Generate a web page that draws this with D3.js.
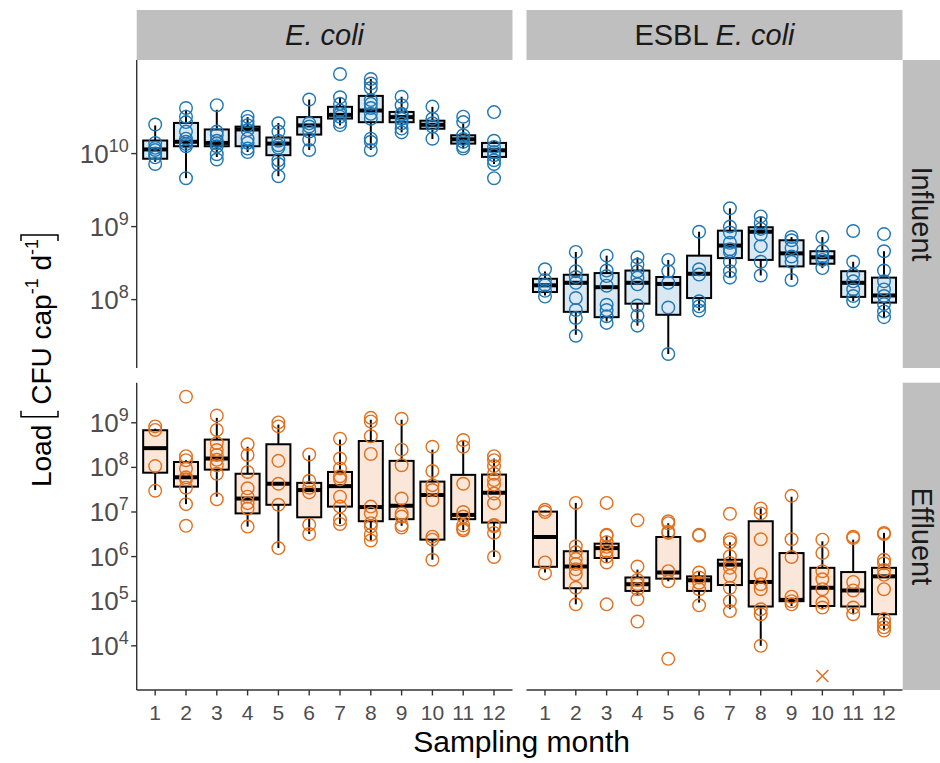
<!DOCTYPE html>
<html>
<head>
<meta charset="utf-8">
<script src="https://cdn.jsdelivr.net/npm/d3@7"></script>
<style>
  body { margin: 0; background: #fff; }
  svg { display: block; font-family: "Liberation Sans", Arial, Helvetica, sans-serif; }
</style>
</head>
<body>
<svg id="chart" width="940" height="763"></svg>
<script>
// ---- data ---------------------------------------------------------------
const months = [1, 2, 3, 4, 5, 6, 7, 8, 9, 10, 11, 12];
const organisms = ["E. coli", "ESBL E. coli"];
const stages = ["Influent", "Effluent"];
const influentTickExponents = [8, 9, 10];
const effluentTickExponents = [4, 5, 6, 7, 8, 9];

// box summaries per month: [lower whisker, Q1, median, Q3, upper whisker] (CFU cap^-1 d^-1)
const ecoliInfluentBox = [
  [7.7e9, 8.5e9, 1.14e10, 1.51e10, 2.43e10],
  [4.6e9, 1.26e10, 1.45e10, 2.63e10, 3.98e10],
  [9.0e9, 1.26e10, 1.40e10, 2.14e10, 3.98e10],
  [1.05e10, 1.26e10, 2.14e10, 2.34e10, 3.16e10],
  [4.9e9, 9.5e9, 1.37e10, 1.66e10, 2.63e10],
  [1.12e10, 1.82e10, 2.43e10, 3.16e10, 5.5e10],
  [2.43e10, 3.02e10, 3.39e10, 4.37e10, 5.9e10],
  [1.12e10, 2.69e10, 3.89e10, 6.17e10, 1.05e11],
  [1.95e10, 2.69e10, 3.16e10, 3.72e10, 6.0e10],
  [1.58e10, 2.19e10, 2.48e10, 2.82e10, 4.37e10],
  [1.17e10, 1.37e10, 1.57e10, 1.78e10, 2.57e10],
  [7.2e9, 9.0e9, 1.11e10, 1.40e10, 1.51e10]
];
const esblInfluentBox = [
  [1.14e8, 1.27e8, 1.57e8, 1.93e8, 2.43e8],
  [3.3e7, 6.8e7, 1.7e8, 2.19e8, 4.5e8],
  [5.0e7, 5.75e7, 1.48e8, 2.31e8, 4.0e8],
  [4.4e7, 8.8e7, 1.7e8, 2.5e8, 3.8e8],
  [1.8e7, 6.2e7, 1.64e8, 2.04e8, 3.5e8],
  [7.1e7, 1.05e8, 2.26e8, 4.0e8, 8.5e8],
  [2.0e8, 3.7e8, 5.5e8, 8.8e8, 1.78e9],
  [2.14e8, 3.5e8, 8.5e8, 9.8e8, 1.38e9],
  [1.86e8, 2.85e8, 4.3e8, 6.5e8, 7.2e8],
  [2.7e8, 3.1e8, 3.8e8, 4.6e8, 7.2e8],
  [9.5e7, 1.09e8, 1.7e8, 2.45e8, 3.3e8],
  [5.75e7, 9.1e7, 1.14e8, 2.0e8, 4.6e8]
];
const ecoliEffluentBox = [
  [3.1e7, 7.6e7, 2.7e8, 6.8e8, 7.4e8],
  [1.5e7, 3.7e7, 6.0e7, 1.32e8, 1.45e8],
  [2.2e7, 8.9e7, 1.58e8, 4.2e8, 1.29e9],
  [4.7e6, 9.3e6, 2.0e7, 7.2e7, 2.9e8],
  [1.55e6, 1.45e7, 4.3e7, 3.3e8, 9.1e8],
  [3.2e6, 7.6e6, 3.1e7, 4.5e7, 1.86e8],
  [5.4e6, 1.32e7, 3.8e7, 7.9e7, 4.2e8],
  [2.3e6, 6.2e6, 1.29e7, 3.9e8, 1.17e9],
  [4.9e6, 6.9e6, 1.38e7, 1.4e8, 1.17e9],
  [8.5e5, 2.4e6, 2.4e7, 4.8e7, 2.5e8],
  [3.9e6, 6.9e6, 8.6e6, 6.8e7, 3.9e8],
  [9.8e5, 5.8e6, 2.7e7, 6.9e7, 1.58e8]
];
const esblEffluentBox = [
  [4.4e5, 5.9e5, 2.75e6, 1.02e7, 1.07e7],
  [8.5e4, 1.95e5, 6.0e5, 1.32e6, 1.6e7],
  [7.2e5, 9.3e5, 1.55e6, 1.95e6, 2.95e6],
  [1.32e5, 1.7e5, 2.4e5, 3.4e5, 5.1e5],
  [2.8e5, 3.2e5, 4.4e5, 2.75e6, 5.6e6],
  [9.3e4, 1.7e5, 2.95e5, 3.6e5, 4.7e5],
  [6.6e4, 2.3e5, 6.6e5, 8.5e5, 2.1e6],
  [1.0e4, 7.6e4, 2.7e5, 6.2e6, 1.2e7],
  [7.8e4, 1.0e5, 1.07e5, 1.2e6, 2.2e7],
  [6.6e4, 7.8e4, 2.0e5, 5.6e5, 2.2e6],
  [5.1e4, 7.6e4, 1.74e5, 4.5e5, 2.4e6],
  [2.2e4, 5.1e4, 3.6e5, 5.6e5, 3.4e6]
];

// individual samples per month
const ecoliInfluentPoints = [
  [2.5e10, 1.4e10, 1.2e10, 1.12e10, 1.0e10, 8.9e9, 7.2e9],
  [4.2e10, 3.2e10, 2.7e10, 2.0e10, 1.6e10, 1.45e10, 1.35e10, 1.26e10, 4.6e9],
  [4.6e10, 2.0e10, 1.8e10, 1.5e10, 1.38e10, 1.26e10, 9.8e9, 8.3e9],
  [3.2e10, 2.8e10, 2.45e10, 2.1e10, 1.6e10, 1.4e10, 1.17e10, 1.05e10],
  [2.6e10, 2.0e10, 1.5e10, 1.3e10, 1.2e10, 8.1e9, 7.2e9, 4.9e9],
  [5.5e10, 2.6e10, 2.35e10, 2.0e10, 1.55e10, 1.12e10],
  [1.23e11, 5.9e10, 4.8e10, 3.9e10, 3.5e10, 3.2e10, 2.7e10, 2.45e10],
  [1.05e11, 9.1e10, 7.9e10, 5.4e10, 4.8e10, 4.2e10, 3.5e10, 3.0e10, 1.6e10, 1.45e10, 1.12e10],
  [6.0e10, 4.6e10, 3.5e10, 3.4e10, 3.0e10, 2.6e10, 2.2e10, 1.95e10],
  [4.4e10, 3.0e10, 2.6e10, 2.35e10, 1.6e10],
  [3.2e10, 2.7e10, 1.78e10, 1.58e10, 1.45e10, 1.26e10, 1.17e10],
  [3.7e10, 1.5e10, 1.23e10, 1.05e10, 9.5e9, 8.1e9, 7.2e9, 4.6e9]
];
const esblInfluentPoints = [
  [2.6e8, 1.86e8, 1.58e8, 1.32e8, 1.1e8],
  [4.5e8, 2.45e8, 2.04e8, 1.7e8, 1.05e8, 7.2e7, 5.6e7, 3.2e7],
  [4.0e8, 2.5e8, 2.1e8, 1.55e8, 8.5e7, 7.2e7, 5.9e7, 4.8e7],
  [3.8e8, 3.0e8, 2.45e8, 2.0e8, 1.62e8, 8.3e7, 6.0e7, 4.4e7],
  [3.5e8, 2.45e8, 1.7e8, 7.8e7, 1.8e7],
  [8.5e8, 2.6e8, 2.2e8, 9.5e7, 8.1e7, 7.1e7],
  [1.78e9, 1.0e9, 8.3e8, 6.0e8, 4.9e8, 4.5e8, 3.3e8, 2.45e8, 2.0e8],
  [1.38e9, 1.12e9, 9.3e8, 7.8e8, 5.4e8, 3.3e8, 2.14e8],
  [7.2e8, 6.5e8, 5.1e8, 3.9e8, 3.3e8, 1.86e8],
  [7.2e8, 4.6e8, 3.9e8, 3.5e8, 2.7e8],
  [8.7e8, 3.3e8, 2.2e8, 1.78e8, 1.38e8, 1.12e8, 9.5e7],
  [7.9e8, 4.6e8, 2.5e8, 1.78e8, 1.38e8, 1.12e8, 8.7e7, 6.9e7, 5.75e7]
];
const ecoliEffluentPoints = [
  [8.3e8, 6.9e8, 1.07e8, 3.0e7],
  [3.85e9, 1.78e8, 1.45e8, 9.3e7, 6.0e7, 5.4e7, 3.5e7, 1.5e7, 4.9e6],
  [1.45e9, 6.9e8, 3.5e8, 2.45e8, 1.9e8, 1.48e8, 1.12e8, 7.2e7, 1.93e7],
  [3.3e8, 1.9e8, 7.9e7, 3.4e7, 2.2e7, 1.58e7, 1.2e7, 4.7e6],
  [1.02e9, 8.3e8, 1.4e8, 4.3e7, 1.45e7, 1.55e6],
  [1.95e8, 5.0e7, 3.5e7, 2.75e7, 5.2e6, 3.2e6],
  [4.4e8, 1.58e8, 9.5e7, 6.3e7, 5.4e7, 2.2e7, 1.32e7, 6.8e6, 5.4e6],
  [1.29e9, 1.07e9, 5.0e8, 2.0e8, 1.32e7, 9.3e6, 5.6e6, 4.7e6, 3.1e6, 2.3e6],
  [1.23e9, 2.5e8, 1.12e8, 2.0e7, 9.3e6, 7.9e6, 5.1e6, 4.5e6],
  [2.9e8, 8.3e7, 4.0e7, 3.1e7, 1.86e7, 2.8e6, 2.4e6, 8.5e5],
  [4.1e8, 2.9e8, 4.3e7, 1.0e7, 7.9e6, 5.0e6, 4.2e6, 3.9e6],
  [1.78e8, 1.45e8, 1.07e8, 7.2e7, 5.2e7, 4.1e7, 2.6e7, 1.58e7, 5.1e6, 4.8e6, 3.4e6, 9.8e5]
];
const esblEffluentPoints = [
  [1.12e7, 1.0e7, 7.4e5, 4.2e5],
  [1.6e7, 1.7e6, 1.26e6, 8.9e5, 6.8e5, 5.2e5, 4.0e5, 2.0e5, 8.5e4],
  [1.6e7, 3.1e6, 2.95e6, 2.1e6, 1.66e6, 1.32e6, 1.0e6, 7.4e5, 8.5e4],
  [6.5e6, 6.0e5, 3.0e5, 2.4e5, 1.86e5, 1.1e5, 3.5e4],
  [6.2e6, 5.6e6, 3.6e6, 3.4e6, 4.7e5, 2.8e5, 5.1e3],
  [3.1e6, 2.95e6, 4.4e5, 3.4e5, 2.6e5, 1.86e5, 8.1e4],
  [9.1e6, 2.45e6, 2.1e6, 1.02e6, 7.2e5, 5.6e5, 3.7e5, 2.0e5, 1.0e5, 6.0e4],
  [1.2e7, 9.3e6, 2.45e6, 4.0e5, 2.4e5, 1.86e5, 6.6e4, 5.1e4, 1.0e4],
  [2.3e7, 2.45e6, 9.8e5, 1.26e5, 1.0e5, 8.5e4],
  [2.4e6, 1.2e6, 4.7e5, 3.1e5, 1.86e5, 9.3e4, 7.2e4],
  [2.8e6, 2.6e6, 2.7e5, 1.74e5, 7.2e4, 5.1e4],
  [3.4e6, 3.2e6, 8.5e5, 7.1e5, 5.0e5, 3.9e5, 1.86e5, 4.0e4, 3.2e4, 2.6e4, 2.2e4]
];
// sample below the quantification limit (drawn as a cross)
const esblEffluentBelowLimit = [{ month: 10, value: 2.1e3 }];

// ---- layout -------------------------------------------------------------
const svg = d3.select("#chart");
const BLUE = "#1f77b4", ORANGE = "#e0701e";
const columns = [{ x0: 136.7, x1: 512.5 }, { x0: 526.5, x1: 902.5 }];
const rows = [{ y0: 60, y1: 368 }, { y0: 382.7, y1: 690 }];
const stripTop = 10, stripRightX = 902.7;

const panels = [
  { col: 0, row: 0, box: ecoliInfluentBox, pts: ecoliInfluentPoints, color: BLUE, lod: [] },
  { col: 1, row: 0, box: esblInfluentBox, pts: esblInfluentPoints, color: BLUE, lod: [] },
  { col: 0, row: 1, box: ecoliEffluentBox, pts: ecoliEffluentPoints, color: ORANGE, lod: [] },
  { col: 1, row: 1, box: esblEffluentBox, pts: esblEffluentPoints, color: ORANGE, lod: esblEffluentBelowLimit }
];

// shared y scale per row (log10, 5% expansion like the facet default)
const yScales = rows.map((r, ri) => {
  const vals = [];
  panels.filter(p => p.row === ri).forEach(p => {
    p.box.forEach(b => vals.push(...b));
    p.pts.forEach(a => vals.push(...a));
    p.lod.forEach(d => vals.push(d.value));
  });
  const lo = Math.log10(d3.min(vals)), hi = Math.log10(d3.max(vals));
  const pad = (hi - lo) * 0.05;
  return d3.scaleLog().domain([10 ** (lo - pad), 10 ** (hi + pad)]).range([r.y1, r.y0]);
});
const xScales = columns.map(c => d3.scaleLinear().domain([0.4, 12.6]).range([c.x0, c.x1]));
const boxWidthUnits = 0.78;

// ---- strips -------------------------------------------------------------
columns.forEach((c, ci) => {
  svg.append("rect").attr("x", c.x0).attr("y", stripTop).attr("width", c.x1 - c.x0)
    .attr("height", rows[0].y0 - stripTop).attr("fill", "#bfbfbf");
  const t = svg.append("text").attr("x", (c.x0 + c.x1) / 2).attr("y", 45)
    .attr("text-anchor", "middle").attr("font-size", 29).attr("fill", "#1a1a1a");
  if (organisms[ci].startsWith("ESBL")) {
    t.append("tspan").text("ESBL ");
    t.append("tspan").attr("font-style", "italic").text("E. coli");
  } else {
    t.append("tspan").attr("font-style", "italic").text(organisms[ci]);
  }
});
rows.forEach((r, ri) => {
  svg.append("rect").attr("x", stripRightX).attr("y", r.y0).attr("width", 940 - stripRightX)
    .attr("height", r.y1 - r.y0).attr("fill", "#bfbfbf");
  const cx = (stripRightX + 940) / 2 + 1, cy = (r.y0 + r.y1) / 2;
  svg.append("text").attr("transform", `translate(${cx},${cy}) rotate(90)`)
    .attr("text-anchor", "middle").attr("dy", "0.35em").attr("font-size", 29)
    .attr("fill", "#1a1a1a").text(stages[ri]);
});

// ---- panels -------------------------------------------------------------
panels.forEach(p => {
  const xs = xScales[p.col], ys = yScales[p.row];
  const bw = (xs(1 + boxWidthUnits) - xs(1));
  const g = svg.append("g");
  const stats = p.box.map((b, i) => ({ m: months[i], lw: b[0], q1: b[1], med: b[2], q3: b[3], uw: b[4] }));

  g.selectAll(".wu").data(stats).join("line")
    .attr("x1", d => xs(d.m)).attr("x2", d => xs(d.m))
    .attr("y1", d => ys(d.q3)).attr("y2", d => ys(d.uw))
    .attr("stroke", "#000").attr("stroke-width", 2);
  g.selectAll(".wl").data(stats).join("line")
    .attr("x1", d => xs(d.m)).attr("x2", d => xs(d.m))
    .attr("y1", d => ys(d.q1)).attr("y2", d => ys(d.lw))
    .attr("stroke", "#000").attr("stroke-width", 2);
  g.selectAll(".bx").data(stats).join("rect")
    .attr("x", d => xs(d.m) - bw / 2).attr("width", bw)
    .attr("y", d => ys(d.q3)).attr("height", d => ys(d.q1) - ys(d.q3))
    .attr("fill", p.color).attr("fill-opacity", 0.17)
    .attr("stroke", "#000").attr("stroke-width", 2);
  g.selectAll(".md").data(stats).join("line")
    .attr("x1", d => xs(d.m) - bw / 2).attr("x2", d => xs(d.m) + bw / 2)
    .attr("y1", d => ys(d.med)).attr("y2", d => ys(d.med))
    .attr("stroke", "#000").attr("stroke-width", 4);

  const pts = [];
  p.pts.forEach((arr, i) => arr.forEach(v => pts.push({ m: months[i], v })));
  g.selectAll(".pt").data(pts).join("circle")
    .attr("cx", d => xs(d.m)).attr("cy", d => ys(d.v)).attr("r", 6.3)
    .attr("fill", "none").attr("stroke", p.color).attr("stroke-width", 1.4);

  const s = 6;
  g.selectAll(".lod").data(p.lod).join("path")
    .attr("d", d => {
      const x = xs(d.month), y = ys(d.value);
      return `M${x - s},${y - s}L${x + s},${y + s}M${x - s},${y + s}L${x + s},${y - s}`;
    })
    .attr("stroke", p.color).attr("stroke-width", 1.5).attr("fill", "none");
});

// ---- axes ---------------------------------------------------------------
const AXIS = "#333333", LABEL = "#4d4d4d";
rows.forEach((r, ri) => {
  const ys = yScales[ri];
  const x0 = columns[0].x0;
  svg.append("line").attr("x1", x0).attr("x2", x0).attr("y1", r.y0).attr("y2", r.y1)
    .attr("stroke", AXIS).attr("stroke-width", 1.4);
  const exps = ri === 0 ? influentTickExponents : effluentTickExponents;
  exps.forEach(e => {
    const y = ys(10 ** e);
    svg.append("line").attr("x1", x0 - 5.5).attr("x2", x0).attr("y1", y).attr("y2", y)
      .attr("stroke", AXIS).attr("stroke-width", 1.4);
    const t = svg.append("text").attr("x", x0 - 8).attr("y", y + 9)
      .attr("text-anchor", "end").attr("font-size", 26).attr("fill", LABEL);
    t.append("tspan").text("10");
    t.append("tspan").attr("dy", -11).attr("font-size", 18).text(e);
  });
});
columns.forEach((c, ci) => {
  const xs = xScales[ci], y0 = rows[1].y1;
  svg.append("line").attr("x1", c.x0).attr("x2", c.x1).attr("y1", y0).attr("y2", y0)
    .attr("stroke", AXIS).attr("stroke-width", 1.4);
  months.forEach(m => {
    svg.append("line").attr("x1", xs(m)).attr("x2", xs(m)).attr("y1", y0).attr("y2", y0 + 5.5)
      .attr("stroke", AXIS).attr("stroke-width", 1.4);
    svg.append("text").attr("x", xs(m)).attr("y", 720).attr("text-anchor", "middle")
      .attr("font-size", 21).attr("fill", LABEL).text(m);
  });
});

// ---- axis titles --------------------------------------------------------
svg.append("text").attr("x", (columns[0].x0 + columns[1].x1) / 2 + 2).attr("y", 752)
  .attr("text-anchor", "middle").attr("font-size", 30).attr("fill", "#000").text("Sampling month");

// y title: Load [CFU cap^-1 d^-1] with tall brackets
(function () {
  const fs = 28, sup = 18;
  const g = svg.append("g").attr("transform", "translate(51,360) rotate(-90)");
  let u = 0;
  const t1 = g.append("text").attr("font-size", fs).attr("x", 0).attr("y", 0).text("Load");
  u = t1.node().getComputedTextLength() + 8;
  const bOpen = u; u += 12;
  const t2 = g.append("text").attr("font-size", fs).attr("x", u).attr("y", 0);
  t2.append("tspan").text("CFU cap");
  t2.append("tspan").attr("font-size", sup).attr("dy", -13).text("-1");
  t2.append("tspan").attr("dy", 13).text(" d");
  t2.append("tspan").attr("font-size", sup).attr("dy", -13).text("-1");
  u += t2.node().getComputedTextLength() + 4;
  const bClose = u; u += 2;
  const top = -30, bot = 7, arm = 6;
  g.append("path").attr("d", `M${bOpen + arm},${top}L${bOpen},${top}L${bOpen},${bot}L${bOpen + arm},${bot}`)
    .attr("fill", "none").attr("stroke", "#000").attr("stroke-width", 1.5);
  g.append("path").attr("d", `M${bClose - arm},${top}L${bClose},${top}L${bClose},${bot}L${bClose - arm},${bot}`)
    .attr("fill", "none").attr("stroke", "#000").attr("stroke-width", 1.5);
  g.selectAll("text, path").attr("transform", `translate(${-u / 2},0)`);
})();
</script>
</body>
</html>
